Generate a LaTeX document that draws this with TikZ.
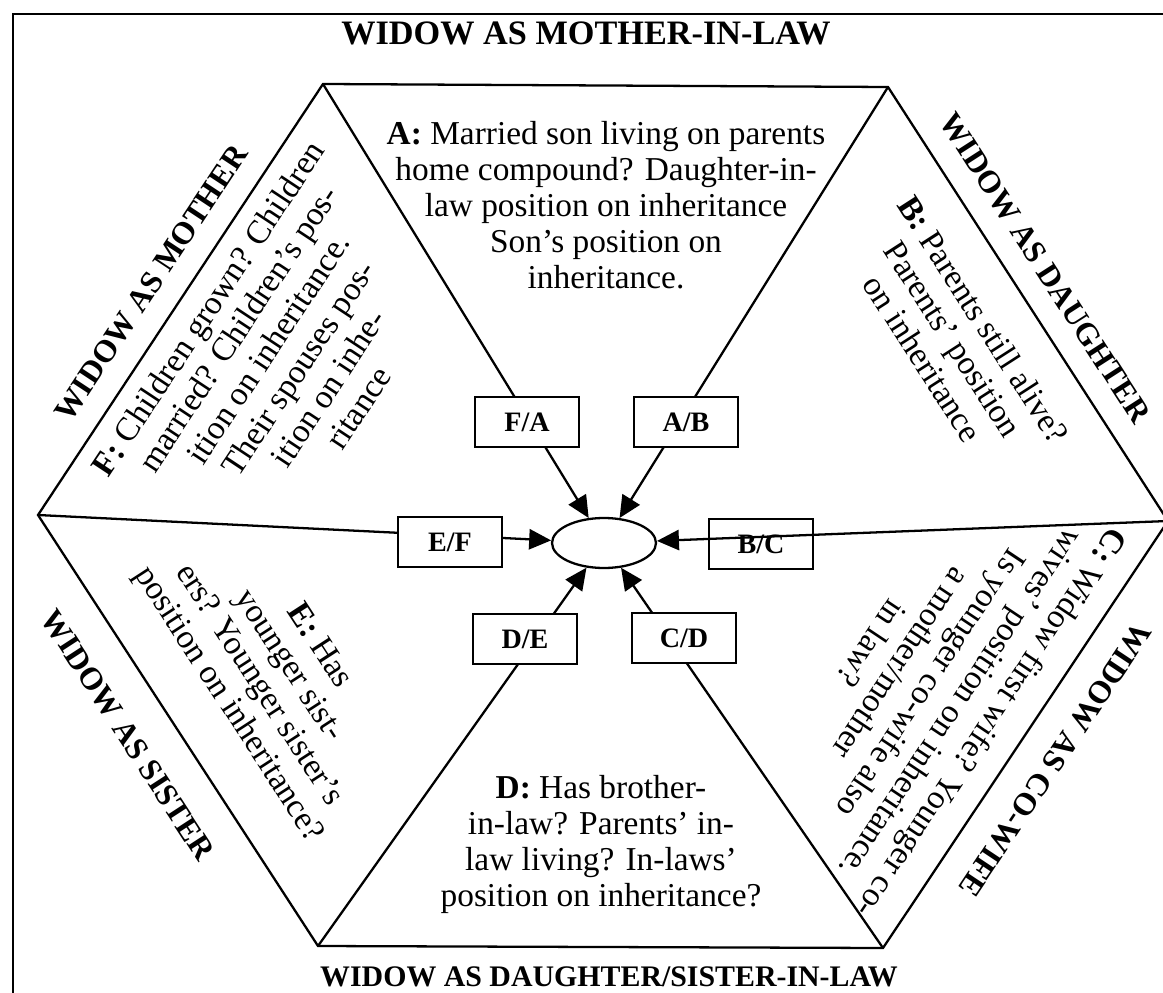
\documentclass[tikz,border=0pt]{standalone}
\usepackage{fontspec}
\setmainfont{Liberation Serif}
\usetikzlibrary{shapes.geometric, arrows.meta}

\begin{document}
\begin{tikzpicture}[x=0.02cm, y=-0.02cm]
        \tikzstyle{pairbox} = [rectangle, draw, fill=white, line width=1.3pt, minimum width=2.08cm, minimum height=1.0cm, inner sep=0pt, font=\fontsize{16}{18}\selectfont\bfseries]
        \tikzstyle{spoke} = [draw, line width=1.3pt, -{Triangle[length=12.5pt, width=11.5pt]}]
        \tikzstyle{quest} = [align=center, inner sep=0pt, font=\fontsize{19}{20.5}\selectfont]
        \tikzstyle{role} = [inner sep=0pt, font=\fontsize{18}{20}\selectfont\bfseries]
        \useasboundingbox (0,0) rectangle (1163,993);

        % Frame
        \draw [line width=1.6pt] (1163,14) -- (13,14) -- (13,993);

        % Hexagon
        \coordinate (tl) at (323,84);
        \coordinate (tr) at (888,87);
        \coordinate (r) at (1168,521);
        \coordinate (br) at (883,948);
        \coordinate (bl) at (318,946);
        \coordinate (l) at (38,515);
        \draw [line width=1.3pt] (tl) -- (tr) -- (r) -- (br) -- (bl) -- (l) -- cycle;

        % Centre
        \node [ellipse, draw, line width=1.3pt, minimum width=2.08cm, minimum height=1.0cm, inner sep=0pt] (widow) at (604,543) {};

        % Spokes
        \path [spoke] (tl) -- (widow);
        \path [spoke] (tr) -- (widow);
        \path [spoke] (r) -- (widow);
        \path [spoke] (br) -- (widow);
        \path [spoke] (bl) -- (widow);
        \path [spoke] (l) -- (widow);

        % Boxes
        \node [pairbox] (fa) at (527,422) {F/A};
        \node [pairbox] (ab) at (686,422) {A/B};
        \node [pairbox] (ef) at (450,542) {E/F};
        \node [pairbox, fill=none] (bc) at (761,544) {B/C};
        \node [pairbox] (de) at (525,639) {D/E};
        \node [pairbox] (cd) at (684,638) {C/D};

        % Roles
        \node [role, font=\fontsize{19.5}{21}\selectfont\bfseries] (mil) at (586,33) {WIDOW AS MOTHER-IN-LAW};
        \node [role, font=\fontsize{17}{19}\selectfont\bfseries] (dil) at (609,977) {WIDOW AS DAUGHTER/SISTER-IN-LAW};
        \node [role, rotate=56.5] (mot) at (151,283) {WIDOW AS MOTHER};
        \node [role, rotate=-57.2] (dau) at (1045,268) {WIDOW AS DAUGHTER};
        \node [role, rotate=-123.7] (cow) at (1055,760) {WIDOW AS CO-WIFE};
        \node [role, rotate=-57] (sis) at (128,735) {WIDOW AS SISTER};

        % Questions
        \node [quest] (qa) at (606,205) {\textbf{A:} Married son living on parents\\ home compound? Daughter-in-\\ law position on inheritance\\ Son's position on\\ inheritance.};
        \node [quest, rotate=-57.2] (qb) at (953,339) {\textbf{B:} Parents still alive?\\ Parents' position\\ on inheritance};
        \node [quest, rotate=-123.7] (qc) at (932,684) {\textbf{C:} Widow first wife? Younger co-\\ wives' position on inheritance.\\ Is younger co-wife also\\ a mother/mother\\ in law?};
        \node [quest] (qd) at (601,844) {\textbf{D:} Has brother-\\ in-law? Parents' in-\\ law living? In-laws'\\ position on inheritance?};
        \node [quest, rotate=-57] (qe) at (273,676) {\textbf{E:} Has\\ younger sist-\\ ers? Younger sister's\\ position on inheritance?};
        \node [quest, rotate=56.5] (qf) at (283,358) {\textbf{F:} Children grown? Children\\ married? Children's pos-\\ ition on inheritance.\\ Their spouses pos-\\ ition on inhe-\\ ritance};
\end{tikzpicture}
\end{document}
